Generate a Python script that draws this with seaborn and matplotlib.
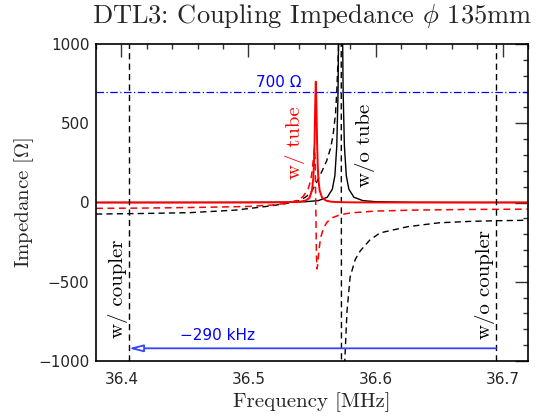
import numpy as np
import pandas as pd
import matplotlib
matplotlib.use("Agg")
import matplotlib.pyplot as plt
import seaborn as sns
from matplotlib.ticker import MultipleLocator

# ---------------- data ----------------
# w/ tube, real part (red solid)
f_tube_re = [36.380, 36.450, 36.500, 36.520, 36.530, 36.540, 36.545, 36.548, 36.550,
             36.551, 36.5515, 36.552, 36.5525, 36.553, 36.5535, 36.554, 36.5545, 36.555,
             36.556, 36.558, 36.561, 36.565, 36.570, 36.580, 36.600, 36.650, 36.720]
z_tube_re = [0, 0, 0.3, 0.7, 1.4, 4.5, 12, 29, 76,
             152, 235, 381, 610, 762, 610, 381, 235, 152,
             76, 29, 12, 5, 2.6, 1.0, 0.3, 0.1, 0]

# w/ tube, imaginary part (red dashed)
f_tube_im = [36.380, 36.420, 36.460, 36.500, 36.520, 36.530, 36.538, 36.543, 36.547,
             36.549, 36.550, 36.551, 36.5515, 36.552, 36.5525, 36.553, 36.5535, 36.554,
             36.5545, 36.555, 36.556, 36.557, 36.559, 36.562, 36.566, 36.572, 36.580,
             36.600, 36.630, 36.670, 36.720]
z_tube_im = [-37, -35, -31, -25, -15, -5, 13, 37, 86,
             141, 191, 267, 314, 343, 267, -38, -343, -419,
             -390, -343, -267, -217, -162, -122, -96, -78, -66,
             -54, -48, -44, -42]

# w/o tube, real part (black solid)
f_free_re = [36.380, 36.450, 36.500, 36.530, 36.545, 36.555, 36.562, 36.566, 36.568,
             36.5695, 36.5705, 36.5713, 36.572, 36.5725, 36.573, 36.5737, 36.5745,
             36.5755, 36.577, 36.579, 36.583, 36.590, 36.600, 36.630, 36.670, 36.720]
z_free_re = [0, 0.2, 0.7, 2, 5, 12, 33, 84, 169,
             355, 697, 1370, 2490, 3000, 2490, 1370, 697,
             355, 169, 84, 33, 12, 5, 1.2, 0.4, 0.1]

# w/o tube, imaginary part (black dashed)
f_free_im = [36.380, 36.420, 36.454, 36.490, 36.517, 36.530, 36.540, 36.543, 36.546,
             36.550, 36.5535, 36.558, 36.5615, 36.5645, 36.5665, 36.5685, 36.5695,
             36.5708, 36.5718, 36.5728, 36.5734, 36.5745, 36.5758, 36.5775, 36.5800,
             36.5840, 36.5880, 36.5955, 36.6035, 36.6250, 36.6500, 36.6750, 36.6950, 36.7200]
z_free_im = [-73, -69, -64, -48, -22, -6, 12, 25, 40,
             75, 125, 200, 262, 340, 420, 560, 700,
             960, 1500, 3000, -3000, -1500, -1000, -690, -470,
             -360, -305, -237, -192, -153, -128, -119, -115, -112]

coupler_with = 36.4058
coupler_without = 36.6948
level_700 = 700
arrow_level = -920

x_major = 0.1
x_minor = 0.02
y_major = 500
y_minor = 100

# ---------------- style ----------------
sns.set_theme(style="white")
plt.rcParams['font.family'] = ['DejaVu Sans']
plt.rcParams['mathtext.fontset'] = 'cm'
plt.rcParams['axes.unicode_minus'] = True

fig = plt.figure(figsize=(5.45, 4.16), dpi=100)
ax = fig.add_axes([96 / 545, 1 - 361 / 416, 432 / 545, 317 / 416])

dash = (4.5, 3)

d_free_im = pd.DataFrame({"f": f_free_im, "z": z_free_im})
d_free_re = pd.DataFrame({"f": f_free_re, "z": z_free_re})
d_tube_im = pd.DataFrame({"f": f_tube_im, "z": z_tube_im})
d_tube_re = pd.DataFrame({"f": f_tube_re, "z": z_tube_re})

sns.lineplot(data=d_free_im, x="f", y="z", ax=ax, color="black", lw=1.0,
             estimator=None, sort=False, linestyle=(0, dash))
sns.lineplot(data=d_free_re, x="f", y="z", ax=ax, color="black", lw=1.0,
             estimator=None, sort=False)
sns.lineplot(data=d_tube_im, x="f", y="z", ax=ax, color="red", lw=1.1,
             estimator=None, sort=False, linestyle=(0, dash))
sns.lineplot(data=d_tube_re, x="f", y="z", ax=ax, color="red", lw=1.4,
             estimator=None, sort=False)

# coupler lines
for fc in (coupler_with, coupler_without):
    ax.axvline(fc, color="black", lw=1.0, linestyle=(0, dash))

# 700 Ohm level
ax.axhline(level_700, color="blue", lw=0.9, linestyle=(0, (6, 2, 1, 2)))
ax.text(36.542, level_700 + 8, "700 Ω", color="blue", fontsize=11,
        ha="right", va="bottom", family="DejaVu Sans")

# shift arrow
ax.annotate("", xy=(coupler_with, arrow_level), xytext=(coupler_without, arrow_level),
            arrowprops=dict(arrowstyle="-|>,head_length=0.7,head_width=0.18",
                            color="#3344ff", fc="white", lw=1.3,
                            shrinkA=0, shrinkB=0))
ax.text(36.446, arrow_level + 35, "−290 kHz", color="blue", fontsize=11,
        ha="left", va="bottom", family="DejaVu Sans")

# rotated labels
lab_kw = dict(rotation=90, ha="center", va="center", family="cmr10", fontsize=15)
ax.text(36.5364, 378, "w/ tube", color="red", **lab_kw)
ax.text(36.5915, 363, "w/o tube", color="black", **lab_kw)
ax.text(36.3976, -546, "w/ coupler", color="black", **lab_kw)
ax.text(36.686, -520, "w/o coupler", color="black", **lab_kw)

# axes
ax.set_xlim(36.38, 36.72)
ax.set_ylim(-1000, 1000)
ax.xaxis.set_major_locator(MultipleLocator(x_major))
ax.xaxis.set_minor_locator(MultipleLocator(x_minor))
ax.yaxis.set_major_locator(MultipleLocator(y_major))
ax.yaxis.set_minor_locator(MultipleLocator(y_minor))
ax.xaxis.set_major_formatter(matplotlib.ticker.FuncFormatter(lambda v, p: f"{v:.1f}"))
ax.yaxis.set_major_formatter(matplotlib.ticker.FuncFormatter(
    lambda v, p: f"{int(round(v))}".replace("-", "\u2212")))

ax.tick_params(which="both", direction="in", top=True, right=True,
               color="#333333", width=1.0, labelsize=11)
ax.tick_params(which="major", length=9.4)
ax.tick_params(which="minor", length=3.6)
ax.tick_params(axis="x", which="major", pad=8)
ax.tick_params(axis="y", which="major", pad=4.8)
for s in ax.spines.values():
    s.set_color("black")
    s.set_linewidth(1.2)

ax.set_xlabel("Frequency [MHz]", family="cmr10", fontsize=15)
ax.set_ylabel(r"Impedance [$\Omega$]", family="cmr10", fontsize=15)
ax.xaxis.set_label_coords(0.5, -0.098)
ax.yaxis.set_label_coords(-0.138, 0.5)
ax.set_title(r"DTL3: Coupling Impedance $\phi$ 135mm", family="cmr10",
             fontsize=19, pad=15)

fig.savefig("out.png", dpi=100)
